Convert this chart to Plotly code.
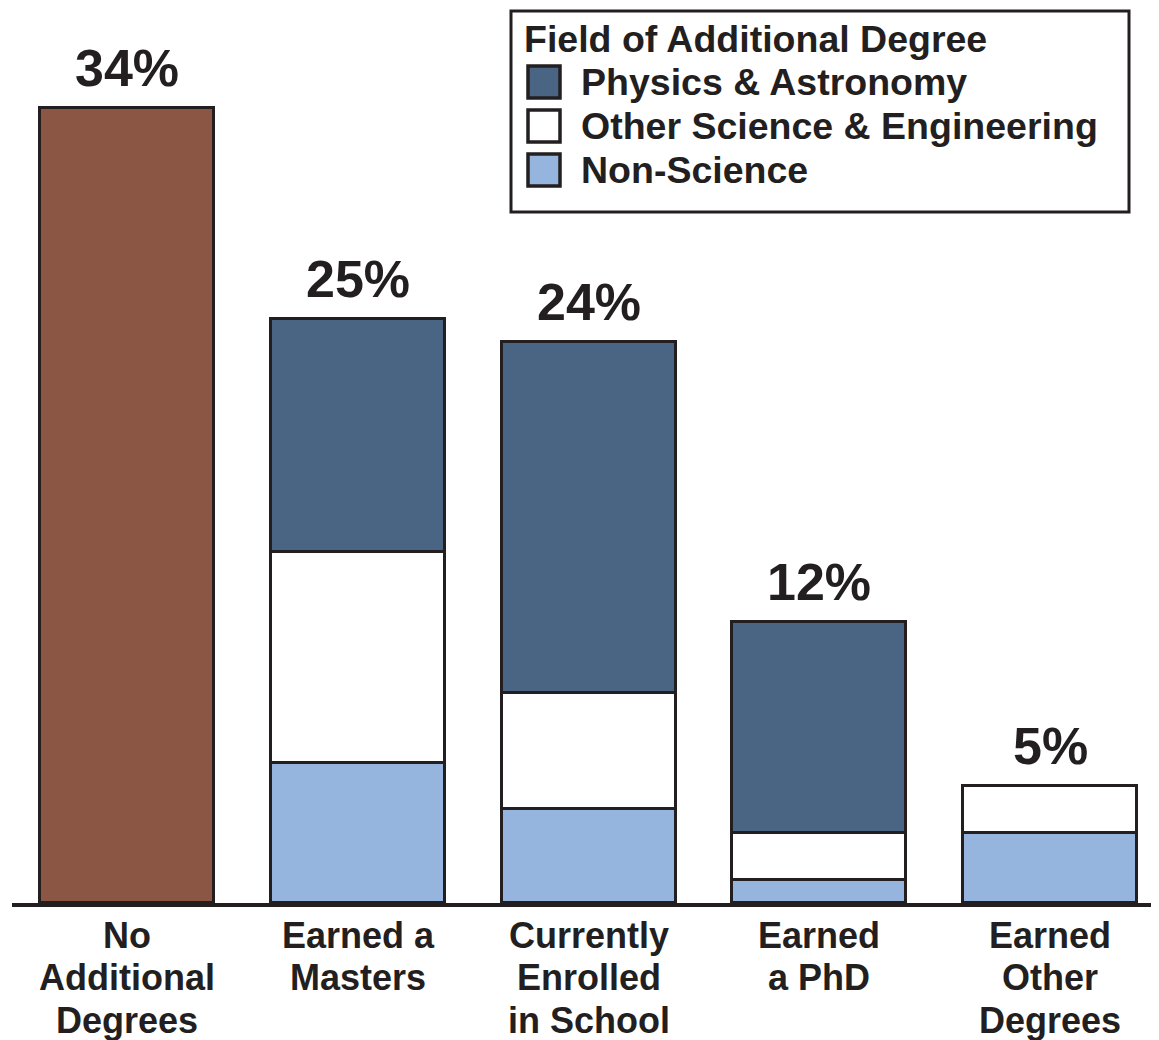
import plotly.graph_objects as go

# ---- data ----
categories = [["No", "Additional", "Degrees"],
              ["Earned a", "Masters"],
              ["Currently", "Enrolled", "in School"],
              ["Earned", "a PhD"],
              ["Earned", "Other", "Degrees"]]
no_additional = [34, None, None, None, None]
non_science = [None, 6, 4, 1, 3]
other_se = [None, 9, 5, 2, 2]
physics = [None, 10, 15, 9, None]
totals = [34, 25, 24, 12, 5]
legend_title = "Field of Additional Degree"
series_names = ["Physics & Astronomy", "Other Science & Engineering", "Non-Science"]

# ---- style ----
INK = "#231F20"
BROWN = "#8C5645"
DARK = "#4A6584"
WHITE = "#FFFFFF"
LIGHT = "#95B4DE"
FONT = "Liberation Sans, Arial, Helvetica, sans-serif"
OFF = 8                      # page body margin in the browser
W, H = 1159 - OFF, 1040 - OFF
ML, MR, MT, MB = 12 - OFF, 0, 0, 137
BAR_W = 0.754
LINE_W = 3.5
pw = W - ML - MR
ph = H - MT - MB

x = list(range(len(categories)))
fig = go.Figure()

def add_bar(vals, color, name):
    fig.add_trace(go.Bar(
        x=x, y=vals, name=name, width=BAR_W, showlegend=False,
        marker=dict(color=color, line=dict(color=INK, width=LINE_W)),
    ))

add_bar(no_additional, BROWN, "No Additional Degrees")
add_bar(non_science, LIGHT, series_names[2])
add_bar(other_se, WHITE, series_names[1])
add_bar(physics, DARK, series_names[0])

# total labels
for xi, t in zip(x, totals):
    fig.add_annotation(x=xi, y=t, text=f"{t}%", showarrow=False,
                       xanchor="center", yanchor="middle", yshift=40,
                       font=dict(family=FONT, size=52, color=INK, weight="bold"))

# category labels (one text per line, tight leading)
for xi, lines in zip(x, categories):
    for k, line in enumerate(lines):
        fig.add_annotation(x=xi, xref="x", y=0, yref="paper", text=line,
                           showarrow=False, xanchor="center", yanchor="middle",
                           yshift=-(32 + 42.5 * k),
                           font=dict(family=FONT, size=36, color=INK, weight="bold"))

# ---- manual legend (screen pixel -> paper coordinates) ----
def px(xp):
    return (xp - OFF - ML) / pw
def py(yp):
    return (H - MB - (yp - OFF)) / ph

fig.add_shape(type="rect", xref="paper", yref="paper",
              x0=px(511), x1=px(1129), y0=py(212), y1=py(11),
              line=dict(color=INK, width=3), fillcolor="white", layer="above")
fig.add_annotation(xref="paper", yref="paper", x=px(522), y=py(39),
                   text=legend_title, showarrow=False, xanchor="left", yanchor="middle",
                   font=dict(family=FONT, size=37.5, color=INK, weight="bold"))
legend_colors = [DARK, WHITE, LIGHT]
row_y = [82, 126, 170]
for name, col, ry in zip(series_names, legend_colors, row_y):
    fig.add_shape(type="rect", xref="paper", yref="paper",
                  x0=px(528), x1=px(560), y0=py(ry + 16), y1=py(ry - 16),
                  line=dict(color=INK, width=3.5), fillcolor=col, layer="above")
    fig.add_annotation(xref="paper", yref="paper", x=px(579), y=py(ry),
                       text=name, showarrow=False, xanchor="left", yanchor="middle",
                       font=dict(family=FONT, size=37.5, color=INK, weight="bold"))

fig.update_layout(
    width=W, height=H, barmode="stack", bargap=0,
    margin=dict(l=ML, r=MR, t=MT, b=MB, pad=0),
    paper_bgcolor="white", plot_bgcolor="white",
    showlegend=False,
    font=dict(family=FONT, color=INK),
    xaxis=dict(range=[-0.5, -0.5 + pw / 230.7], tickmode="array", tickvals=x,
               showticklabels=False, showgrid=False, zeroline=False,
               showline=True, linecolor=INK, linewidth=4, ticks="",
               fixedrange=True),
    yaxis=dict(range=[0, ph / 23.38], visible=False, showgrid=False,
               zeroline=False, fixedrange=True),
)

fig.write_html("out.html")
